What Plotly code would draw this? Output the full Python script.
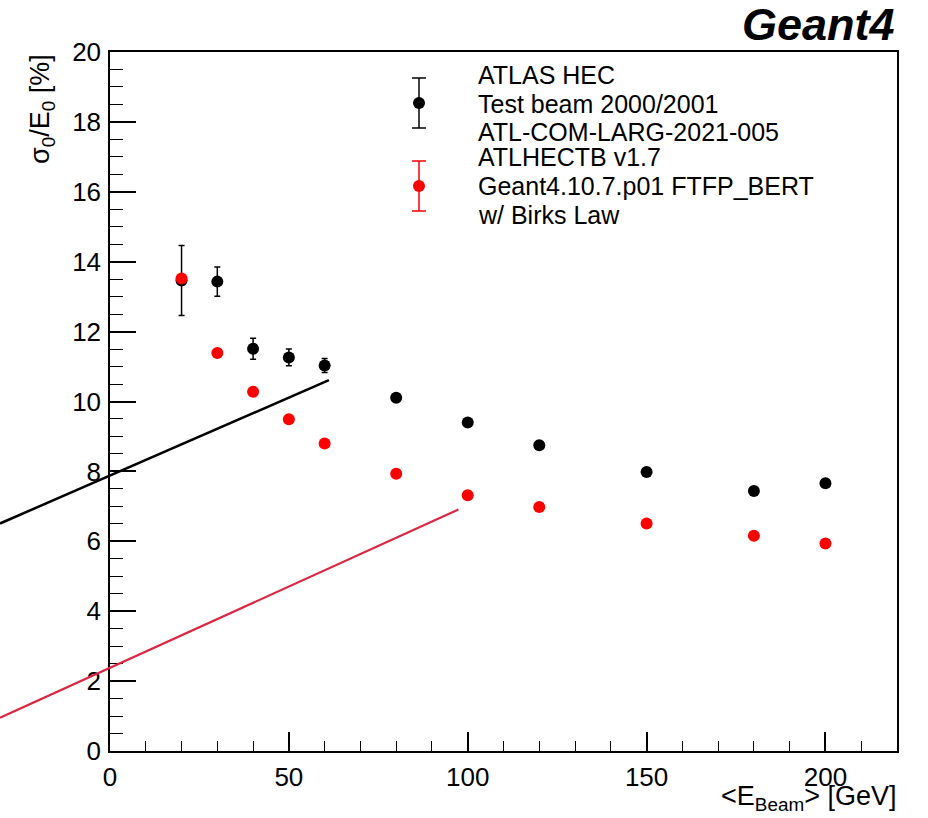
import plotly.graph_objects as go

W, H = 928, 818

# ---- data ----
energy = [20, 30, 40, 50, 60, 80, 100, 120, 150, 180, 200]
data_res = [13.46, 13.43, 11.51, 11.26, 11.03, 10.11, 9.40, 8.75, 7.98, 7.44, 7.66]
data_err = [1.00, 0.42, 0.30, 0.24, 0.20, 0.0, 0.0, 0.0, 0.0, 0.0, 0.0]
sim_res = [13.52, 11.39, 10.28, 9.49, 8.80, 7.93, 7.32, 6.98, 6.51, 6.16, 5.94]

fit_black_x = [-30.75, 61.2]
fit_black_y = [6.51, 10.61]
fit_red_x = [-30.75, 97.4]
fit_red_y = [0.95, 6.91]

x_range = [0, 220]
y_range = [0, 20]
x_major = [0, 50, 100, 150, 200]
y_major = [0, 2, 4, 6, 8, 10, 12, 14, 16, 18, 20]

legend_lines = [
    "ATLAS HEC", "Test beam 2000/2001", "ATL-COM-LARG-2021-005",
    "ATLHECTB v1.7", "Geant4.10.7.p01 FTFP_BERT", "w/ Birks Law",
]

# ---- frame geometry (pixels) ----
PL, PR, PT, PB = 110, 897, 52, 751
def px(x): return x / W
def py(y): return (H - y) / H

xd = [px(PL), px(PR)]
yd = [py(PB), py(PT)]

# overlay axes covering the whole page, same data scale as main axes
ux = (x_range[1] - x_range[0]) / (PR - PL)
uy = (y_range[1] - y_range[0]) / (PB - PT)
x2_range = [x_range[0] - PL * ux, x_range[1] + (W - PR) * ux]
y2_range = [y_range[0] - (H - PB) * uy, y_range[1] + PT * uy]

FONT = "Liberation Sans, Arial, Helvetica, sans-serif"

fig = go.Figure()

fig.add_trace(go.Scatter(
    x=fit_black_x, y=fit_black_y, mode="lines",
    line=dict(color="black", width=2.5), xaxis="x2", yaxis="y2",
    showlegend=False, hoverinfo="skip"))
fig.add_trace(go.Scatter(
    x=fit_red_x, y=fit_red_y, mode="lines",
    line=dict(color="#dc2640", width=2.2), xaxis="x2", yaxis="y2",
    showlegend=False, hoverinfo="skip"))

fig.add_trace(go.Scatter(
    x=energy, y=data_res, mode="markers",
    marker=dict(color="black", size=12),
    error_y=dict(type="data", array=data_err, color="black", thickness=1.5, width=3),
    showlegend=False, cliponaxis=False))
fig.add_trace(go.Scatter(
    x=energy, y=sim_res, mode="markers",
    marker=dict(color="#ff0000", size=12),
    showlegend=False, cliponaxis=False))

shapes = []
annotations = []

# legend symbols
def legend_symbol(cx, cy, half, color):
    shapes.append(dict(type="line", xref="paper", yref="paper",
                       x0=px(cx), x1=px(cx), y0=py(cy - half), y1=py(cy + half),
                       line=dict(color=color, width=1.5)))
    for yy in (cy - half, cy + half):
        shapes.append(dict(type="line", xref="paper", yref="paper",
                           x0=px(cx - 7), x1=px(cx + 7), y0=py(yy), y1=py(yy),
                           line=dict(color=color, width=1.5)))
    shapes.append(dict(type="circle", xref="paper", yref="paper",
                       x0=px(cx - 6), x1=px(cx + 6), y0=py(cy + 6), y1=py(cy - 6),
                       fillcolor=color, line=dict(color=color, width=0)))

legend_symbol(419, 103, 25, "black")
legend_symbol(419, 186, 25, "#ff0000")

legend_y = [75, 104, 132, 157, 186, 215]
for t, yy in zip(legend_lines, legend_y):
    annotations.append(dict(text=t, xref="paper", yref="paper", x=px(476), y=py(yy),
                            xanchor="left", yanchor="middle", showarrow=False,
                            font=dict(family=FONT, size=25, color="black")))

annotations.append(dict(text="<b><i>Geant4</i></b>", xref="paper", yref="paper",
                        x=px(897), y=py(25), xanchor="right", yanchor="middle",
                        showarrow=False, font=dict(family=FONT, size=45, color="black")))

annotations.append(dict(text="σ<sub>0</sub>/E<sub>0</sub> [%]", xref="paper", yref="paper",
                        x=px(42), y=py(52), xanchor="center", yanchor="top",
                        textangle=-90, showarrow=False,
                        font=dict(family=FONT, size=27, color="black")))

annotations.append(dict(text="<E<sub>Beam</sub>> [GeV]", xref="paper", yref="paper",
                        x=px(898), y=py(798), xanchor="right", yanchor="middle",
                        showarrow=False, font=dict(family=FONT, size=27, color="black")))

fig.update_layout(
    width=W, height=H,
    margin=dict(l=0, r=0, t=0, b=0, autoexpand=False),
    paper_bgcolor="white", plot_bgcolor="rgba(0,0,0,0)",
    font=dict(family=FONT, size=26, color="black"),
    showlegend=False,
    xaxis=dict(domain=xd, range=x_range, tickvals=x_major, ticks="inside",
               ticklen=19, tickwidth=1.5, tickcolor="black",
               minor=dict(dtick=10, ticks="inside", ticklen=10, tickwidth=1.2, tickcolor="black"),
               showline=True, linecolor="black", linewidth=1.5, mirror=True,
               showgrid=False, zeroline=False, fixedrange=True,
               tickfont=dict(family=FONT, size=26), ticklabelstandoff=2),
    yaxis=dict(domain=yd, range=y_range, tickvals=y_major, ticks="inside",
               ticklen=26, tickwidth=1.5, tickcolor="black",
               minor=dict(dtick=0.5, ticks="inside", ticklen=13, tickwidth=1.2, tickcolor="black"),
               showline=True, linecolor="black", linewidth=1.5, mirror=True,
               showgrid=False, zeroline=False, fixedrange=True,
               tickfont=dict(family=FONT, size=26), ticklabelstandoff=2),
    xaxis2=dict(domain=[0, 1], range=x2_range, visible=False, anchor="y2", fixedrange=True),
    yaxis2=dict(domain=[0, 1], range=y2_range, visible=False, anchor="x2", fixedrange=True),
    shapes=shapes, annotations=annotations,
)

fig.write_html("out.html")
